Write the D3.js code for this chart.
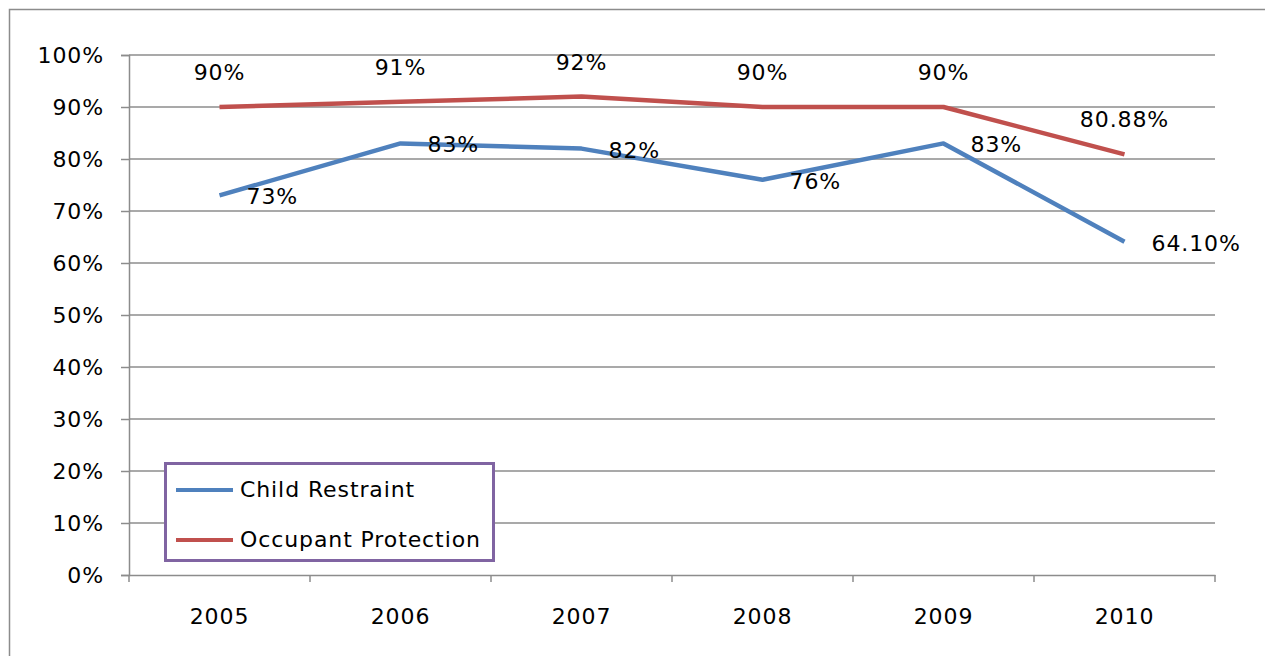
<!DOCTYPE html>
<html>
<head>
<meta charset="utf-8">
<script src="https://d3js.org/d3.v7.min.js"></script>
<style>
  body { margin: 0; background: #fff; }
  text { font-family: "DejaVu Sans", sans-serif; fill: #000; letter-spacing: 0.9px; }
</style>
</head>
<body>
<div id="chart"></div>
<script>
// chart data
var years = ["2005", "2006", "2007", "2008", "2009", "2010"];
var childRestraint = [73, 83, 82, 76, 83, 64.10];
var occupantProtection = [90, 91, 92, 90, 90, 80.88];
var childLabels = ["73%", "83%", "82%", "76%", "83%", "64.10%"];
var occupantLabels = ["90%", "91%", "92%", "90%", "90%", "80.88%"];
var yTicks = [0, 10, 20, 30, 40, 50, 60, 70, 80, 90, 100];

var seriesNames = ["Child Restraint", "Occupant Protection"];
var seriesColors = ["#4F81BD", "#C0504D"];

var W = 1265, H = 656;
var margin = { top: 55, right: 50, bottom: 81, left: 129 };
var width = W - margin.left - margin.right;
var height = H - margin.top - margin.bottom;
var fontSize = "22px";

var svg = d3.select("#chart")
    .append("svg")
    .attr("width", W)
    .attr("height", H);

// outer frame
svg.append("rect")
    .attr("x", 9.5)
    .attr("y", 9.5)
    .attr("width", W)
    .attr("height", H)
    .attr("fill", "none")
    .attr("stroke", "#8c8c8c")
    .attr("stroke-width", 1.5);

var g = svg.append("g")
    .attr("transform", "translate(" + margin.left + "," + margin.top + ")");

var x = d3.scaleBand()
    .domain(years)
    .range([0, width]);

var y = d3.scaleLinear()
    .domain([0, 100])
    .range([height, 0]);

// gridlines
g.selectAll(".grid")
    .data(yTicks.slice(1))
    .join("line")
    .attr("class", "grid")
    .attr("x1", 0)
    .attr("x2", width)
    .attr("y1", d => y(d))
    .attr("y2", d => y(d))
    .attr("stroke", "#8c8c8c")
    .attr("stroke-width", 1.5);

// y axis
var yAxis = g.append("g")
    .call(d3.axisLeft(y).tickValues(yTicks).tickFormat(d => d + "%").tickSize(8).tickPadding(17));
yAxis.select(".domain").attr("stroke", "#8c8c8c").attr("stroke-width", 1.5);
yAxis.selectAll(".tick line").attr("stroke", "#8c8c8c").attr("stroke-width", 1.5);
yAxis.selectAll("text").style("font-size", fontSize).attr("fill", "#000");

// x axis with ticks at category boundaries
var xAxis = g.append("g")
    .attr("transform", "translate(0," + height + ")")
    .call(d3.axisBottom(x).tickSize(0).tickPadding(33));
xAxis.select(".domain").attr("stroke", "#8c8c8c").attr("stroke-width", 1.5);
xAxis.selectAll("text").style("font-size", fontSize).attr("fill", "#000");

var bounds = years.map(d => x(d)).concat([width]);
g.selectAll(".xtick")
    .data(bounds)
    .join("line")
    .attr("class", "xtick")
    .attr("x1", d => d)
    .attr("x2", d => d)
    .attr("y1", height)
    .attr("y2", height + 7)
    .attr("stroke", "#8c8c8c")
    .attr("stroke-width", 1.5);

var line = d3.line()
    .x((d, i) => x(years[i]) + x.bandwidth() / 2)
    .y(d => y(d));

var allSeries = [childRestraint, occupantProtection];

g.selectAll(".series")
    .data(allSeries)
    .join("path")
    .attr("class", "series")
    .attr("d", d => line(d))
    .attr("fill", "none")
    .attr("stroke", (d, i) => seriesColors[i])
    .attr("stroke-width", 4.5)
    .attr("stroke-linejoin", "round");

// child labels: to the right of points
g.selectAll(".clabel")
    .data(childRestraint)
    .join("text")
    .attr("class", "clabel")
    .attr("x", (d, i) => x(years[i]) + x.bandwidth() / 2 + 27)
    .attr("y", d => y(d) + 3)
    .attr("dominant-baseline", "middle")
    .style("font-size", fontSize)
    .text((d, i) => childLabels[i]);

// occupant labels: above points
g.selectAll(".olabel")
    .data(occupantProtection)
    .join("text")
    .attr("class", "olabel")
    .attr("x", (d, i) => x(years[i]) + x.bandwidth() / 2)
    .attr("y", d => y(d) - 33)
    .attr("dominant-baseline", "middle")
    .attr("text-anchor", "middle")
    .style("font-size", fontSize)
    .text((d, i) => occupantLabels[i]);

// legend
var legend = svg.append("g")
    .attr("transform", "translate(164,462)");
legend.append("rect")
    .attr("x", 1.5)
    .attr("y", 1.5)
    .attr("width", 328)
    .attr("height", 97)
    .attr("fill", "#fff")
    .attr("stroke", "#8064A2")
    .attr("stroke-width", 3);

seriesNames.forEach(function (name, i) {
    var ly = 28 + i * 50;
    legend.append("line")
        .attr("x1", 12)
        .attr("x2", 69)
        .attr("y1", ly)
        .attr("y2", ly)
        .attr("stroke", seriesColors[i])
        .attr("stroke-width", 4);
    legend.append("text")
        .attr("x", 76)
        .attr("y", ly + 1)
        .attr("dominant-baseline", "middle")
        .style("font-size", fontSize)
        .text(name);
});
</script>
</body>
</html>
